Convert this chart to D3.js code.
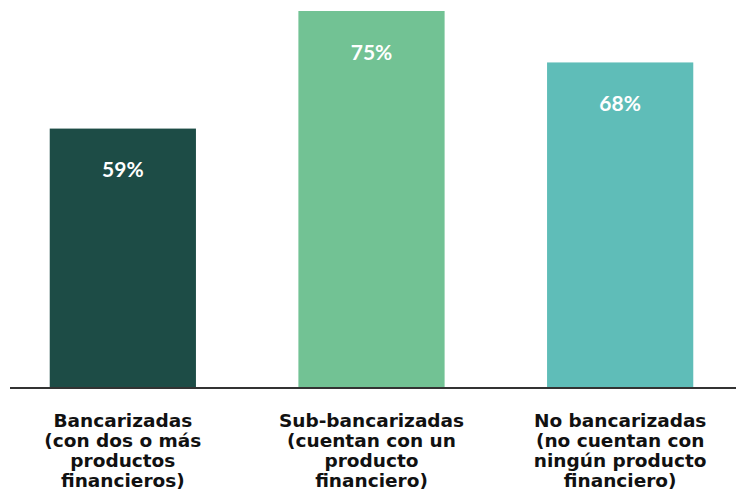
<!DOCTYPE html>
<html>
<head>
<meta charset="utf-8">
<script src="https://cdn.jsdelivr.net/npm/d3@7"></script>
<style>
  body { margin: 0; background: #fff; }
  svg { display: block; }
</style>
</head>
<body>
<div id="chart"></div>
<script>
let categories = [
    ["Bancarizadas", "(con dos o más", "productos", "financieros)"],
    ["Sub-bancarizadas", "(cuentan con un", "producto", "financiero)"],
    ["No bancarizadas", "(no cuentan con", "ningún producto", "financiero)"]
];
let values = [59, 75, 68];
let colors = ["#1d4c46", "#72c294", "#5fbdb8"];

let outerWidth = 736;
let outerHeight = 495;
let baseY = 388;

let svg = d3.select('#chart')
    .append('svg')
    .attr('width', outerWidth)
    .attr('height', outerHeight);

let xScale = d3.scaleBand()
    .domain(d3.range(values.length))
    .range([0, 743])
    .paddingInner(0.412)
    .paddingOuter(0.2);

// y axis in the original does not start at zero
let yScale = d3.scaleLinear()
    .domain([23.7, 75])
    .range([baseY, 11]);

svg.selectAll('rect.bar')
    .data(values)
    .enter()
    .append('rect')
    .attr('class', 'bar')
    .attr('x', function(d, i) { return xScale(i); })
    .attr('y', function(d) { return yScale(d); })
    .attr('width', xScale.bandwidth())
    .attr('height', function(d) { return baseY - yScale(d); })
    .attr('fill', function(d, i) { return colors[i]; });

svg.selectAll('text.value')
    .data(values)
    .enter()
    .append('text')
    .attr('class', 'value')
    .attr('x', function(d, i) { return xScale(i) + xScale.bandwidth() / 2; })
    .attr('y', function(d) { return yScale(d - 5.6); })
    .attr('dy', '0.35em')
    .attr('text-anchor', 'middle')
    .attr('fill', '#fff')
    .style('font-family', 'Lato, "Open Sans", sans-serif')
    .style('font-weight', 'bold')
    .style('font-size', '21px')
    .text(function(d) { return d + '%'; });

// baseline
svg.append('line')
    .attr('x1', 10)
    .attr('x2', outerWidth)
    .attr('y1', baseY)
    .attr('y2', baseY)
    .attr('stroke', '#333')
    .attr('stroke-width', 2);

let labels = svg.selectAll('text.cat')
    .data(categories)
    .enter()
    .append('text')
    .attr('class', 'cat')
    .attr('text-anchor', 'middle')
    .attr('fill', '#111')
    .style('font-family', '"DejaVu Sans", sans-serif')
    .style('font-weight', 'bold')
    .style('font-size', '18.5px');

labels.selectAll('tspan')
    .data(function(d, i) { return d.map(function(s) { return [s, i]; }); })
    .enter()
    .append('tspan')
    .attr('x', function(d) { return xScale(d[1]) + xScale.bandwidth() / 2; })
    .attr('y', function(d, j) { return 427 + j * 20; })
    .text(function(d) { return d[0]; });
</script>
</body>
</html>
